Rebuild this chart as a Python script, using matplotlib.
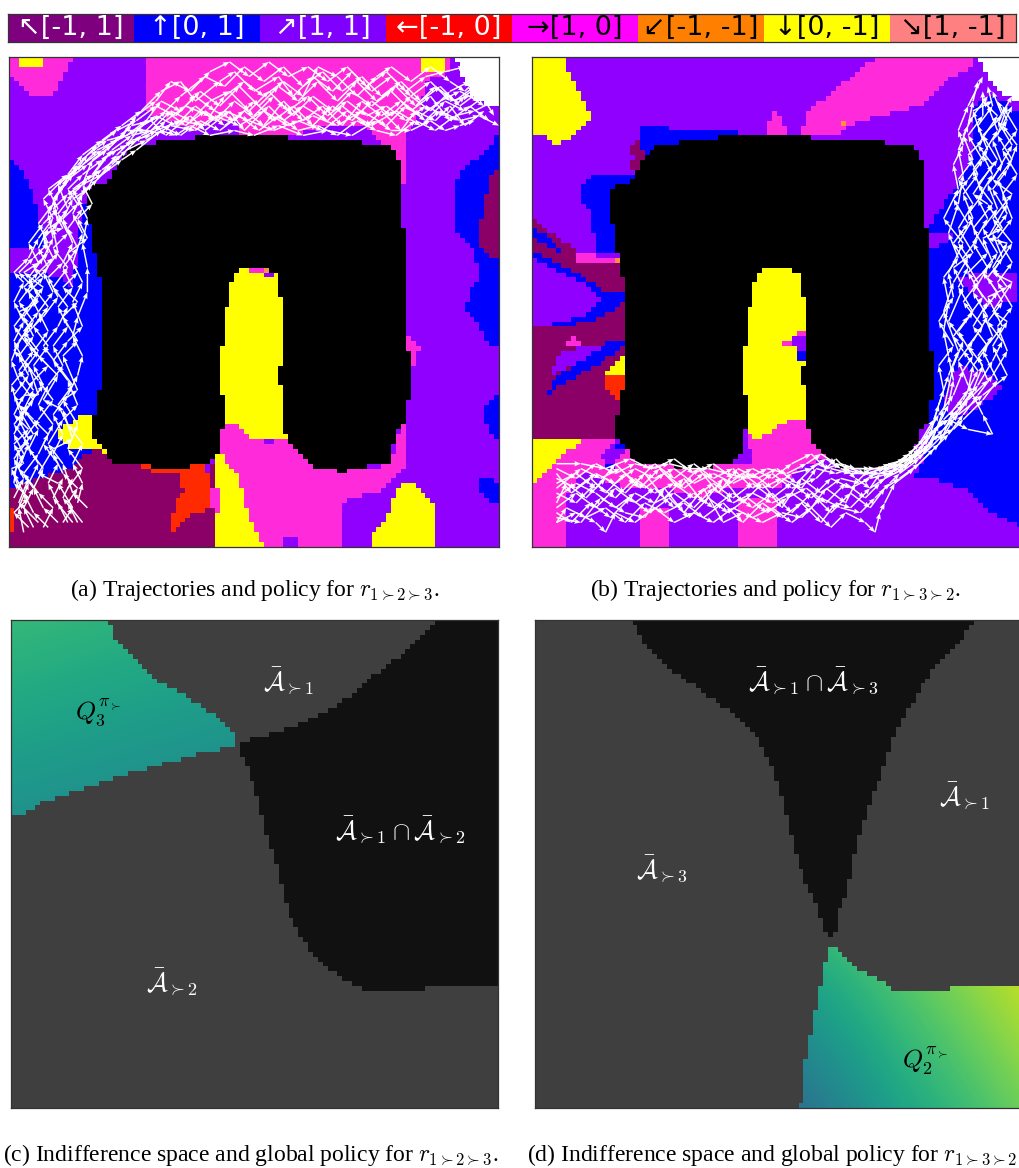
import numpy as np
import matplotlib
matplotlib.use("Agg")
import matplotlib.pyplot as plt
from matplotlib.colors import ListedColormap
from matplotlib.path import Path

plt.rcParams['mathtext.fontset'] = 'cm'

W, H = 1019, 1168

# legend strip
action_labels = ["↖[-1, 1]", "↑[0, 1]", "↗[1, 1]", "←[-1, 0]", "→[1, 0]", "↙[-1, -1]", "↓[0, -1]", "↘[1, -1]"]
action_colors = ["#7f007f", "#0000ff", "#8000ff", "#ff0000", "#ff00ff", "#ff8000", "#ffff00", "#ff8080"]
label_colors = ["white", "white", "white", "white", "black", "black", "black", "black"]

# policy map colours, one per cell code
policy_codes = "VBDRMOYKW"
policy_colors = ["#8f00ff", "#0000ff", "#8b0066", "#ff2a00", "#ff2bdb", "#ff9040", "#ffff00", "#000000", "#ffffff"]

obstacle = [(38,16),(57,16),(57,17),(65,17),(66,17),(71,17),(73,18),(77,18),(78,19),(79,20),(80,22),(80,35),
            (81,35),(81,60),(82,60),(82,70),(81,70),(81,75),(80,75),(79,77),(78,80),(78,83),(74,83),(72,84),
            (69,84),(69,85),(67,85),(67,84),(62,84),(60,81),(58,80),(57,78),(56,76),(56,67),(55,67),(55,63),
            (56,63),(56,49),(55,49),(55,45),(54,44),(52,43),(48,43),(46,45),(45,48),(44,55),(43,64),(43,69),
            (44,69),(44,76),(43,76),(43,80),(41,82),(40,83),(37,83),(37,84),(30,84),(28,83),(21,83),(20,81),
            (18,78),(17,77),(17,73),(18,73),(18,68),(19,68),(19,45),(18,45),(18,40),(17,40),(16,28),(18,26),
            (20,26),(22,22),(26,18),(29,18),(31,17),(38,17)]
finger = [(48,43),(52,43),(54,44),(55,45),(55,49),(56,49),(56,63),(55,63),(55,67),(56,67),(56,76),(57,78),
          (44,78),(44,69),(43,69),(43,64),(44,55),(45,48),(46,45)]
corner_goal = [(91,0),(100,0),(100,10),(95,9),(93,5)]

# panel (a) regions, painted in this order over the base code V
regions_a = [
    ("M", [(0,0),(13,0),(11,4),(9,8),(5,8),(2,5),(0,3)]),
    ("Y", [(2,0),(7,0),(7,2),(2,2)]),
    ("M", [(28,0),(90,0),(90,3),(85,5),(84,10),(82,14),(81,16),(81,26),(80,26),(79,20),(75,17),(62,16),(47,16),(47,13),(42,13),(38,15),(28,11)]),
    ("V", [(59,16),(65,14),(72,14),(76,17),(73,18),(60,18)]),
    ("Y", [(84,0),(89,0),(89,3),(84,3)]),
    ("B", [(0,20),(3,24),(5,28),(6,32),(8,39),(0,39)]),
    ("B", [(0,44),(5,44),(10,45),(13,47),(14,40),(15,30),(17,30),(19,40),(19,75),(21,82),(16,81),(12,84),(10,85),(0,88)]),
    ("Y", [(10,76),(12,75),(15,73),(17,73),(17,77),(18,78),(20,78),(20,81),(18,80),(13,80),(12,79),(10,77)]),
    ("D", [(0,88),(10,85),(12,84),(14,83),(16,81),(18,80),(20,81),(21,83),(42,83),(42,100),(0,100)]),
    ("R", [(27,83),(30,84),(35,84),(37,83),(41,83),(41,92),(38,93),(35,95),(34,97),(33,96),(34,91),(36,89),(35,87),(35,85),(30,85),(28,84)]),
    ("R", [(0,92),(1,92),(1,97),(0,97)]),
    ("V", [(40,82),(41,82),(41,85),(40,85)]),
    ("M", [(43,76),(46,75),(48,77),(50,78),(54,79),(55,78),(57,78),(60,81),(62,84),(74,84),(78,83),(80,75),(81,75),(81,83),(79,85),(77,87),(75,89),(69,90),(68,91),(68,100),(52,100),(43,82)]),
    ("Y", [(42,80),(43,80),(44,83),(46,84),(47,86),(48,90),(49,94),(50,96),(51,98),(52,100),(42,100)]),
    ("M", [(41,88),(43,88),(43,93),(41,91)]),
    ("V", [(56,98),(59,98),(59,100),(56,100)]),
    ("Y", [(74,100),(74,98),(76,96),(77,94),(78,92),(79,89),(80,87),(83,87),(84,89),(86,90),(87,93),(87,100)]),
    ("B", [(100,14),(99,17),(97,20),(93,22),(92,24),(91,26),(91,35),(93,38),(95,40),(96,45),(94,47),(94,50),(93,50),(93,52),(96,55),(98,59),(100,59)]),
    ("D", [(100,22),(98,24),(97,31),(96,35),(96,38),(98,41),(100,41)]),
    ("B", [(100,68),(97,71),(97,74),(99,78),(100,78)]),
    ("B", [(96,86),(98,86),(100,87),(100,91),(98,91),(96,88)]),
    ("M", [(81,57),(82,58),(84,59),(84,60),(83,60),(83,63),(82,63),(82,60),(81,60)]),
    ("K", obstacle),
    ("Y", finger),
    ("M", [(44,75),(46,75),(48,77),(50,78),(54,79),(55,78),(57,78),(57,80),(44,80)]),
    ("M", [(49,43),(52,43),(52,44),(49,44)]),
    ("O", [(52,43),(53,43),(53,44),(52,44)]),
    ("V", [(52,44),(54,44),(54,45),(52,45)]),
    ("W", corner_goal),
]

# panel (b) regions
regions_b = [
    ("Y", [(0,0),(7,0),(7,2),(8,4),(9,6),(10,8),(11,11),(12,11),(12,13),(10,14),(9,15),(8,17),(6,17),(6,18),(4,18),(4,17),(2,16),(0,16)]),
    ("M", [(71,0),(90,0),(90,2),(86,4),(83,6),(81,8),(79,10),(75,11),(69,12.5),(64,14),(63,16),(55,16),(55,15),(56,14),(56,12),(59,9),(62,7),(64,5),(67,3),(69,1)]),
    ("O", [(63,13),(64,13),(64,14),(63,14)]),
    ("M", [(48,16),(48,14),(49,12),(50,11),(51,13),(52,16)]),
    ("B", [(22,14),(28,14),(28,15),(42,15),(42,17),(26,20),(22,20)]),
    ("B", [(13,24),(21,24),(18,40),(13,40),(12,31),(10,29),(10,26)]),
    ("D", [(21,17),(22,17),(23,22),(20,23),(20,22),(21,20),(20,20),(20,19),(21,18)]),
    ("D", [(0,33),(2,35),(7,38),(10,41),(18,41),(19,45),(19,78),(0,78)]),
    ("B", [(0,35),(2,36),(6,39),(5.5,39.5),(0,37)]),
    ("M", [(9,40),(16,41),(17,42),(10,42),(9,41)]),
    ("O", [(17,41),(18,41),(18,42),(17,42)]),
    ("B", [(0,39.5),(3,41),(8,43.5),(12,46),(14.5,48),(19,48),(19,50),(16,52),(12,54),(6,55),(0,55)]),
    ("V", [(0,41),(2,42),(6,44),(10,46),(14,50),(10,53),(6,54),(2,55),(0,55)]),
    ("V", [(7,60),(14,58.5),(15,60),(10,62),(4,65),(5,62)]),
    ("M", [(6,59),(9,57),(10,59)]),
    ("B", [(19,58),(16,58),(10,62),(4,66),(3,69),(6,67),(13,63),(19,59)]),
    ("Y", [(15,65),(19,61),(19,65)]),
    ("R", [(15,65),(19,65),(19,69),(18,70),(17,69),(15,68)]),
    ("M", [(0,87),(3,84),(7,80),(10,78),(17,78),(20,81),(21,83),(45,83),(45,78),(48,77),(53,74),(56,74),(57,78),(60,82),(56,83),(52,86),(50,88),(40,88),(34,90),(28,88),(20,88),(10,85),(7,90),(7,100),(0,100)]),
    ("M", [(22,92),(28,92),(28,100),(22,100)]),
    ("M", [(42,90),(50,90),(50,100),(42,100)]),
    ("Y", [(0,78),(9,78),(10,78),(9,79.5),(7,80),(3,84),(1,87),(0,87)]),
    ("V", [(14,82),(17,78),(19,78),(19,81),(16,83)]),
    ("B", [(15,83),(17,83),(17,84),(15,84)]),
    ("B", [(17,79),(19,79),(19,80),(17,80)]),
    ("B", [(99,11),(100,11),(100,96),(94,93),(88,88),(82,86),(78,86),(80,82),(81,78),(81,35),(84,30),(87,27),(88,24),(90,20),(90,10),(94,8)]),
    ("V", [(87,63),(94,65),(96,68),(90,72),(86,74),(84,70)]),
    ("V", [(87,45),(92,44),(99,44),(99,50),(92,51)]),
    ("V", [(81,36),(86,36),(84,38),(81,39)]),
    ("K", obstacle),
    ("Y", finger),
    ("M", [(48,77),(53,74),(56,74),(57,78),(57,80),(46,80),(45,80)]),
    ("M", [(44,77),(45,77),(45,80),(44,80)]),
    ("M", [(54,56),(56,56),(56,57),(54,57)]),
    ("V", [(53,57),(56,57),(56,60),(54,60)]),
    ("M", [(51,58),(53,58),(53,59),(51,59)]),
    ("B", [(54,60),(56,60),(56,62),(54,62)]),
    ("W", [(91,0),(100,0),(100,9),(96,8),(93,4)]),
]

# trajectories, state coordinates
traj_a = [
    [(14,95),(12,91),(14,88),(11,85),(9,81),(11,77),(9,73),(12,69),(14,65),(15,61),(13,57),(14,53),(16,48),(16,43),(15,38),(16,33),(14,29),(17,26),(21,22),(24,19),(28,17),(33,14),(38,15),(42,12),(47,14),(52,11),(57,14),(62,12),(67,14),(72,11),(77,14),(81,10),(85,13),(89,9),(93,11),(97,8)],
    [(12,95),(10,91),(8,87),(10,83),(7,79),(9,75),(6,71),(8,67),(11,63),(9,59),(12,55),(10,51),(13,47),(11,43),(14,39),(12,35),(15,31),(13,27),(17,24),(20,20),(24,18),(27,14),(31,12),(35,8),(40,4),(44,6),(48,2),(52,5),(56,2),(60,6),(64,3),(68,7),(72,4),(76,8),(80,5),(84,9),(88,6),(92,10),(96,7),(99,12)],
    [(10,95),(7,92),(5,88),(7,84),(4,80),(6,76),(3,72),(5,68),(2,64),(5,60),(8,56),(6,52),(9,48),(7,44),(10,40),(9,35),(12,31),(10,26),(14,23),(18,19),(22,17),(26,15),(30,12),(34,14),(38,10),(42,13),(46,9),(50,12),(54,8),(58,12),(62,8),(66,11),(70,7),(74,10),(78,7),(82,11),(86,8),(90,13),(94,10),(98,13)],
    [(8,96),(5,93),(3,89),(1,85),(3,81),(1,77),(3,73),(1,69),(4,65),(2,61),(5,57),(3,53),(6,49),(4,45),(7,41),(9,37),(8,32),(10,28),(13,24),(16,20),(20,17),(24,16),(28,13),(31,9),(35,11),(39,7),(43,10),(47,6),(51,10),(55,6),(59,9),(63,5),(67,9),(71,5),(75,9),(79,6),(83,10),(87,6),(91,9),(95,6)],
    [(5,96),(3,92),(5,88),(2,84),(4,79),(1,75),(4,71),(7,67),(5,63),(8,59),(5,55),(8,51),(5,47),(2,44),(5,41),(8,38),(6,34),(9,30),(11,26),(14,22),(18,18),(22,15),(26,13),(30,10),(34,12),(38,8),(42,11),(46,13),(50,9),(54,13),(58,10),(62,14),(66,10),(70,13),(74,9),(78,12),(82,8),(86,11),(90,7),(94,5)],
    [(3,97),(2,92),(4,87),(6,83),(3,78),(6,74),(9,70),(6,66),(3,62),(1,58),(3,54),(1,50),(3,46),(1,44),(4,41),(6,37),(9,33),(7,29),(11,25),(15,22),(19,19),(23,16),(26,12),(30,9),(33,5),(37,7),(41,3),(45,1),(49,4),(53,1),(57,4),(61,2),(65,5),(69,2),(73,6),(77,3),(81,7),(85,4),(89,3),(93,2)],
    [(14,91),(15,87),(13,83),(15,79),(12,75),(10,71),(13,67),(10,63),(7,59),(10,55),(12,51),(9,47),(12,43),(9,39),(12,36),(10,32),(13,28),(16,25),(19,23),(23,20),(27,16),(31,14),(35,16),(39,13),(43,15),(47,12),(51,15),(55,12),(59,15),(63,14),(67,16),(71,13),(75,15),(79,16),(83,13),(87,15),(91,12),(95,11),(99,9)],
    [(1,90),(3,86),(1,82),(4,78),(2,74),(5,70),(2,66),(0.5,62),(2,58),(5,54),(2,50),(5,46),(8,43),(6,39),(8,35),(11,33),(13,29),(16,27),(18,23),(21,19),(25,16),(29,15),(33,11),(37,13),(41,9),(45,7),(49,11),(53,7),(57,11),(61,8),(65,12),(69,9),(73,12),(77,10),(81,13),(85,10),(89,12),(93,8),(97,5)],
    [(15,95),(11,90),(13,86)],
    [(13,95),(9,90),(11,86)],
    [(6,95),(2,91),(4,86)],
    # second pass, less regular
    [(11,95),(13,92),(10,87),(6,85),(9,80),(13,78),(11,72),(7,70),(10,65),(6,61),(3,57),(7,53),(10,49),(8,45),(11,42),(13,38),(11,33),(14,30),(12,27),(15,24),(19,21),(22,19),(26,17),(30,15),(35,13),(40,14),(44,11),(49,13),(54,15),(59,13),(64,15),(69,11),(74,14),(79,11),(84,14),(88,11),(92,13),(96,12),(100,14)],
    [(7,96),(9,92),(6,89),(3,85),(6,81),(8,77),(5,74),(2,71),(5,66),(8,63),(4,59),(1,55),(4,51),(7,47),(3,44),(6,42),(4,38),(7,34),(10,31),(8,27),(12,24),(15,20),(19,17),(23,14),(27,11),(31,7),(35,5),(38,9),(43,5),(46,3),(50,7),(55,4),(58,8),(62,4),(66,7),(70,3),(74,7),(78,4),(82,8),(86,5),(90,9),(94,8),(97,10)],
    [(4,96),(1,93),(4,90),(1,87),(2,80),(5,77),(2,72),(0.5,67),(3,64),(6,60),(3,56),(6,52),(4,48),(7,45),(5,43),(8,40),(7,36),(11,35),(9,31),(12,28),(15,26),(17,21),(21,18),(25,14),(29,13),(32,16),(37,12),(40,15),(45,11),(48,15),(53,10),(56,13),(60,10),(65,13),(68,10),(73,14),(76,11),(80,15),(83,11),(87,13),(90,10),(93,14),(97,11)],
    [(16,92),(13,89),(11,83),(8,79),(11,74),(14,71),(12,66),(9,62),(12,58),(15,55),(13,50),(15,46),(13,42),(15,36),(13,32),(15,28),(18,25),(22,20),(25,17),(29,16),(32,13),(36,10),(41,12),(44,8),(48,5),(52,8),(56,5),(60,8),(63,2),(67,4),(71,8),(75,4),(78,2),(82,5),(86,2),(90,5),(93,7),(97,3)],
    [(2,88),(0.5,84),(3,83),(1,79),(4,76),(1,73),(3,69),(6,69),(4,63),(1,60),(4,55),(2,52),(6,50),(3,47),(6,44),(9,41),(7,37),(10,34),(9,29),(12,25),(16,22),(20,19),(24,15),(28,15),(32,11),(36,14),(40,11),(44,14),(48,11),(52,14),(56,9),(60,13),(64,10),(68,14),(72,9),(76,12),(80,9),(84,12),(88,9),(92,7),(96,9)],
    [(12,88),(15,84),(12,80),(14,75),(11,70),(14,68),(11,61),(14,58),(11,53),(14,50),(11,47),(14,44),(12,40),(16,37),(14,33),(17,30),(15,26),(19,24),(23,21),(26,19),(31,15),(34,16),(37,14),(41,16),(46,15),(50,16),(55,14),(60,16),(65,15),(70,16),(75,13),(78,15),(82,15),(86,13),(89,15),(92,14),(95,13)],
]

traj_b = [
    [(5,86),(9,88),(13,85),(17,87),(21,84),(25,86),(29,84),(33,87),(37,85),(41,87),(45,85),(49,88),(53,85),(57,84),(60,82),(63,84),(67,85),(71,85),(75,84),(78,82),(81,79),(83,75),(85,71),(86,66),(85,61),(84,56),(85,50),(84,45),(87,41),(85,36),(87,30),(88,24),(87,19),(89,14),(90,9),(91,5)],
    [(5,89),(9,91),(13,87),(17,90),(21,86),(25,89),(29,87),(33,90),(37,87),(41,90),(45,87),(49,90),(53,87),(57,90),(61,86),(65,88),(69,86),(73,85),(76,83),(80,80),(84,76),(87,72),(90,68),(92,63),(89,59),(92,55),(88,50),(91,46),(88,41),(91,37),(89,32),(92,28),(90,23),(93,19),(91,14),(94,10),(93,6)],
    [(5,92),(9,89),(13,92),(17,88),(21,91),(25,88),(29,92),(33,89),(37,92),(41,89),(45,92),(49,89),(53,93),(57,89),(61,93),(65,89),(69,92),(72,88),(75,86),(79,83),(83,79),(86,74),(89,70),(93,66),(91,61),(94,57),(92,52),(95,48),(92,44),(95,40),(92,35),(95,31),(93,26),(96,22),(94,17),(97,13),(95,9)],
    [(5,95),(9,93),(13,95),(15,97),(17,93),(21,95),(25,92),(29,95),(33,93),(37,95),(41,92),(45,94),(49,92),(53,95),(57,92),(61,96),(64,93),(68,95),(70,97),(71,93),(72,91),(74,87),(78,84),(82,80),(85,77),(88,73),(91,69),(94,65),(97,60),(95,55),(98,51),(95,46),(98,42),(95,37),(98,33),(96,28),(99,24),(96,19),(99,15),(96,10)],
    [(5,84),(9,86),(13,83),(17,85),(21,83),(25,84),(29,82),(33,85),(37,83),(41,86),(45,84),(49,86),(53,83),(57,81),(60,84),(63,83),(66,84),(70,84),(74,83),(77,81),(80,78),(83,73),(86,69),(88,64),(90,61),(87,56),(90,52),(87,47),(89,43),(86,38),(89,34),(86,29),(89,25),(92,21),(89,16),(92,12),(92,7)],
    [(5,93),(8,95),(12,91),(16,94),(20,90),(24,93),(28,90),(32,94),(36,90),(40,93),(44,90),(48,93),(52,90),(56,88),(60,91),(64,87),(68,90),(71,87),(74,84),(78,80),(81,77),(85,74),(88,71),(91,67),(94,62),(96,58),(93,54),(96,50),(93,45),(96,41),(94,36),(97,32),(94,27),(97,23),(99,18),(96,14),(98,10)],
    [(5,90),(9,87),(13,89),(17,92),(21,89),(25,91),(29,89),(33,92),(37,88),(41,91),(45,89),(49,91),(53,89),(57,92),(60,88),(64,91),(66,87),(69,84),(73,84),(76,83),(79,80),(82,76),(85,74),(89,76),(94,77),(92,73),(89,67),(87,62),(90,58),(93,53),(90,48),(93,43),(90,38),(93,33),(91,29),(94,24),(92,20),(95,15),(93,10)],
    [(5,87),(9,85),(13,88),(17,83),(21,87),(25,83),(29,86),(33,83),(37,86),(41,84),(45,88),(49,85),(53,88),(58,86),(62,82),(66,86),(69,88),(72,86),(76,84),(80,79),(84,74),(88,70),(91,64),(88,60),(86,57),(89,53),(92,49),(89,44),(93,40),(90,35),(94,30),(91,26),(95,21),(92,16),(96,12),(94,7)],
    # second pass, less regular
    [(5,91),(7,87),(11,90),(15,86),(19,89),(23,85),(27,90),(31,86),(35,91),(39,86),(43,91),(47,87),(51,92),(55,86),(59,89),(63,86),(67,87),(70,85),(74,85),(77,83),(80,81),(84,77),(86,72),(89,68),(90,63),(93,59),(90,55),(93,50),(90,46),(94,42),(92,37),(96,35),(93,30),(90,28),(94,22),(91,18),(95,12),(92,9)],
    [(5,94),(10,95),(14,90),(19,93),(23,94),(27,88),(31,93),(35,88),(39,95),(43,93),(47,95),(51,93),(55,94),(59,90),(63,92),(67,93),(70,90),(73,87),(75,85),(79,82),(82,78),(86,76),(88,74),(92,70),(95,66),(92,60),(96,55),(93,49),(97,47),(94,43),(97,38),(93,37),(97,30),(95,25),(98,21),(95,16),(97,10)],
    [(5,85),(8,89),(12,86),(15,89),(19,85),(23,88),(27,85),(31,88),(35,85),(39,88),(43,85),(47,88),(51,86),(55,88),(58,84),(62,85),(65,84),(68,85),(72,84),(75,83),(78,81),(81,80),(84,72),(86,63),(88,58),(85,54),(88,47),(86,43),(90,40),(87,35),(90,30),(87,25),(90,21),(88,16),(90,12),(93,8)],
    [(5,88),(10,84),(14,86),(18,84),(22,88),(26,84),(30,88),(34,84),(38,89),(42,84),(46,86),(50,84),(54,87),(58,83),(61,84),(65,85),(69,85),(73,83),(77,82),(81,78),(83,71),(85,65),(87,60),(84,52),(86,46),(89,41),(87,38),(90,33),(88,28),(91,24),(89,20),(92,17),(90,11),(94,9)],
    [(5,95),(7,92),(11,94),(15,92),(19,95),(23,91),(27,93),(31,91),(35,94),(39,91),(43,95),(47,91),(51,94),(55,91),(59,95),(62,91),(65,92),(69,88),(71,85),(75,83),(79,81),(83,77),(87,73),(92,69),(97,65),(94,59),(97,54),(94,52),(98,46),(94,44),(98,38),(94,33),(98,28),(94,25),(98,18),(95,13),(98,8)],
    [(5,83),(10,83),(15,84),(20,82),(24,84),(28,83),(32,84),(36,84),(40,85),(44,86),(48,84),(52,85),(56,83),(59,81),(62,83),(65,84),(69,84),(72,84),(76,82),(79,79),(82,74),(84,68),(83,63),(86,59),(83,54),(86,49),(85,44),(88,38),(84,33),(87,27),(86,22),(88,18),(87,15),(89,10),(92,4)],
]

# indifference maps: dark overlap region and the wedge where Q is shown
dark_c = [(87,0),(100,0),(100,75),(85,75),(85,76),(74,76),(71,75),(66,72),(61,67),(58,62),(56,56),(54,48),(52,42),(50,34),(48,28.5),(47,27),(47,25),(51,24),(59,21.5),(66,18),(71,15),(75,11),(81,6.5),(85,3)]
wedge_c = [(0,0),(20,0),(21,3),(23,6),(27,10),(31,13),(35,15),(41,19),(45,23),(46,24),(46,26),(40,27),(33,29),(26,31),(19,33),(13,35),(7,37),(2,40),(0,40)]
q_c = [[0.67, 0.61, 0.55], [0.47, 0.41, 0.35], [0.30, 0.25, 0.20]]
q_c_extent = (-25, 125, 125, -25)

dark_d = [(20,0),(90,0),(88,3),(84,7),(80,12.5),(77,17.5),(74,23),(72,28.5),(70,34),(68,39.5),(66,45),(65,50),(64,55.5),(62,60.5),(61.6,64),(61,65),(60,65),(59,62),(57,57),(54,50),(52,42),(50,34),(48,28.5),(45,23.4),(41,19),(36,16),(31,12.4),(26,9),(22,4.4)]
wedge_d = [(61,67),(62,67),(64,70),(67,72),(71,74),(74,76),(85,76),(85,75),(100,75),(100,100),(54,100),(55,99),(55,93),(56,88),(57,83),(58,78),(59,73),(60,68)]
q_d = [[0.75, 0.85, 0.98], [0.52, 0.72, 0.90], [0.33, 0.58, 0.78]]
q_d_extent = (37.5, 112.5, 112.5, 37.5)


def px_axes(x0, y0, x1, y1):
    ax = fig.add_axes([x0/W, 1-y1/H, (x1-x0)/W, (y1-y0)/H])
    ax.set_xticks([])
    ax.set_yticks([])
    for s in ax.spines.values():
        s.set_linewidth(0.9)
        s.set_color("#333333")
    return ax


def raster(poly):
    # which of the 100x100 state cells have their centre inside the polygon
    c = np.arange(100) + 0.5
    xx, yy = np.meshgrid(c, c)
    pts = np.column_stack([xx.ravel(), yy.ravel()])
    return Path(poly).contains_points(pts).reshape(100, 100)


def policy_panel(ax, regions, trajectories):
    grid = np.zeros((100, 100), dtype=int)
    for code, poly in regions:
        grid[raster(poly)] = policy_codes.index(code)
    ax.imshow(grid, cmap=ListedColormap(policy_colors), vmin=0, vmax=len(policy_codes)-1,
              interpolation="nearest", extent=(0, 100, 100, 0), aspect="auto")
    for t in trajectories:
        t = np.array(t, dtype=float)
        d = np.diff(t, axis=0)
        ax.quiver(t[:-1, 0], t[:-1, 1], d[:, 0], d[:, 1], angles="xy", scale_units="xy", scale=1,
                  color="white", width=0.003, headwidth=3.5, headlength=4.5, headaxislength=4)
    ax.set_xlim(0, 100)
    ax.set_ylim(100, 0)


def indifference_panel(ax, dark, wedge, q, q_extent):
    ax.imshow(q, cmap="viridis", vmin=0, vmax=1, interpolation="bilinear", extent=q_extent, aspect="auto")
    rgba = np.ones((100, 100, 4))
    rgba[..., :3] = 0x3f/255.
    rgba[raster(dark), :3] = 0x11/255.
    rgba[raster(wedge), 3] = 0
    ax.imshow(rgba, interpolation="nearest", extent=(0, 100, 100, 0), aspect="auto")
    ax.set_xlim(0, 100)
    ax.set_ylim(100, 0)


fig = plt.figure(figsize=(W/100., H/100.), dpi=100)

# legend strip along the top
lg = px_axes(8, 14, 1016, 42)
lg.imshow(np.arange(8)[None, :], cmap=ListedColormap(action_colors), aspect="auto", extent=(0, 8, 1, 0))
for i, lab in enumerate(action_labels):
    lg.text(i+0.5, 0.5, lab, color=label_colors[i], ha="center", va="center", fontsize=19.5, family="DejaVu Sans")

ax_a = px_axes(9, 57, 499, 547)
policy_panel(ax_a, regions_a, traj_a)
ax_b = px_axes(532, 57, 1022, 547)
policy_panel(ax_b, regions_b, traj_b)

ax_c = px_axes(11, 620, 498, 1108)
indifference_panel(ax_c, dark_c, wedge_c, q_c, q_c_extent)
ax_d = px_axes(535, 620, 1023, 1108)
indifference_panel(ax_d, dark_d, wedge_d, q_d, q_d_extent)

A1 = r"$\bar{\mathcal{A}}_{\succ 1}$"
A2 = r"$\bar{\mathcal{A}}_{\succ 2}$"
A3 = r"$\bar{\mathcal{A}}_{\succ 3}$"
lab_size = 18.5
ax_c.text(57, 12.5, A1, color="white", fontsize=lab_size, ha="center", va="center")
ax_c.text(80, 43, r"$\bar{\mathcal{A}}_{\succ 1} \cap \bar{\mathcal{A}}_{\succ 2}$", color="white", fontsize=lab_size, ha="center", va="center")
ax_c.text(33, 74, A2, color="white", fontsize=lab_size, ha="center", va="center")
ax_c.text(18, 19, r"$Q_3^{\pi_\succ}$", color="black", fontsize=lab_size, ha="center", va="center")
ax_d.text(57, 12.5, r"$\bar{\mathcal{A}}_{\succ 1} \cap \bar{\mathcal{A}}_{\succ 3}$", color="white", fontsize=lab_size, ha="center", va="center")
ax_d.text(88, 36, A1, color="white", fontsize=lab_size, ha="center", va="center")
ax_d.text(26, 51, A3, color="white", fontsize=lab_size, ha="center", va="center")
ax_d.text(80, 90.5, r"$Q_2^{\pi_\succ}$", color="black", fontsize=lab_size, ha="center", va="center")

captions = [(255, 590, "(a) Trajectories and policy for $r_{1\\succ 2\\succ 3}$."),
            (776, 590, "(b) Trajectories and policy for $r_{1\\succ 3\\succ 2}$."),
            (251, 1155, "(c) Indifference space and global policy for $r_{1\\succ 2\\succ 3}$."),
            (772, 1155, "(d) Indifference space and global policy for $r_{1\\succ 3\\succ 2}$")]
for x, y, s in captions:
    fig.text(x/W, 1-y/H, s, ha="center", va="center", fontsize=17, family="Liberation Serif", color="black")

fig.savefig("out.png", dpi=100)
